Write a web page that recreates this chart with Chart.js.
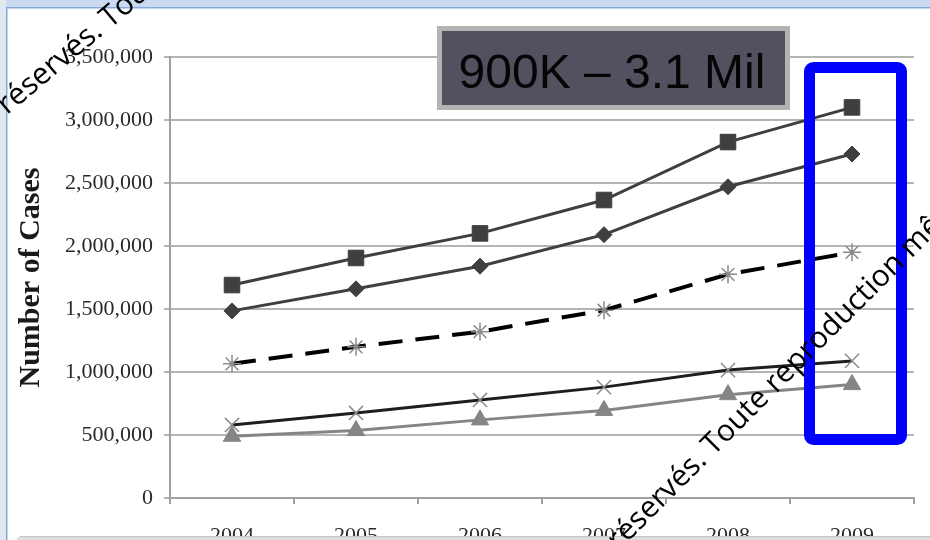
<!DOCTYPE html>
<html>
<head>
<meta charset="utf-8">
<script src="https://cdn.jsdelivr.net/npm/chart.js@4/dist/chart.umd.min.js"></script>
<style>
  html, body { margin: 0; padding: 0; background: #ffffff; overflow: hidden; }
  #wrap { position: relative; width: 930px; height: 540px; }
</style>
</head>
<body>
<div id="wrap"><canvas id="c" width="930" height="540"></canvas></div>
<script>
// Reported cases per year, 2004–2009
const years = ['2004', '2005', '2006', '2007', '2008', '2009'];
const squareSeries   = [1690000, 1905000, 2100000, 2365000, 2825000, 3100000];
const diamondSeries  = [1485000, 1660000, 1840000, 2090000, 2470000, 2730000];
const starSeries     = [1065000, 1200000, 1320000, 1490000, 1775000, 1950000];
const crossSeries    = [580000, 675000, 778000, 880000, 1015000, 1088000];
const triangleSeries = [490000, 535000, 620000, 695000, 820000, 900000];
const yTickValues = [0, 500000, 1000000, 1500000, 2000000, 2500000, 3000000, 3500000];
const rangeLabel = '900K – 3.1 Mil';
const watermarkHead = 'Tous droits réservés.';
const watermarkTail = ' Toute reproduction même partielle';

const serif = '"Liberation Serif", "Times New Roman", serif';

function fmt(v) { return v.toLocaleString('en-US'); }

const decorations = {
  id: 'decorations',
  beforeDraw(chart) {
    const ctx = chart.ctx;
    ctx.save();
    ctx.fillStyle = '#ffffff';
    ctx.fillRect(0, 0, 930, 540);
    // window frame: top strip and left strip
    ctx.fillStyle = '#c9daf1';
    ctx.fillRect(0, 0, 930, 7);
    ctx.fillStyle = '#e1e7f1';
    ctx.fillRect(0, 0, 6, 540);
    ctx.fillStyle = '#86a9dc';
    ctx.fillRect(6, 7, 930, 1.5);
    ctx.fillRect(6, 7, 1.5, 540);
    ctx.restore();
  },
  afterDatasetsDraw(chart) {
    const ctx = chart.ctx;
    const x = chart.scales.x, y = chart.scales.y;
    ctx.save();
    // range label box
    ctx.fillStyle = '#b3b3b3';
    ctx.fillRect(437, 26, 353, 84);
    ctx.fillStyle = '#535160';
    ctx.fillRect(442, 31, 343, 74);
    ctx.fillStyle = '#050505';
    ctx.font = '48px "Liberation Sans", Arial, sans-serif';
    ctx.textAlign = 'center';
    ctx.textBaseline = 'alphabetic';
    ctx.fillText(rangeLabel, 612, 88);
    // highlight frame around the last year
    const cx = x.getPixelForValue(years.length - 1);
    const top = y.getPixelForValue(3500000) + 10.5;
    const bottom = y.getPixelForValue(500000) + 4.5;
    ctx.strokeStyle = '#0000ff';
    ctx.lineWidth = 11;
    ctx.lineJoin = 'round';
    ctx.beginPath();
    ctx.roundRect(cx - 42.5, top, 92, bottom - top, 4);
    ctx.stroke();
    ctx.restore();
  },
  afterDraw(chart) {
    const ctx = chart.ctx;
    ctx.save();
    // bottom panel edge
    ctx.fillStyle = '#dedede';
    ctx.beginPath();
    ctx.roundRect(17, 536, 930, 10, 4);
    ctx.fill();
    ctx.fillStyle = '#c4c4c4';
    ctx.fillRect(20, 536, 930, 1);
    // copyright watermark
    ctx.fillStyle = '#000000';
    ctx.font = '30px "Open Sans", "Noto Sans", sans-serif';
    ctx.textBaseline = 'alphabetic';
    const marks = [[104, 34, 40], [708, 462, 45]];
    for (const [mx, my, deg] of marks) {
      ctx.save();
      ctx.translate(mx, my);
      ctx.rotate(-deg * Math.PI / 180);
      ctx.textAlign = 'right';
      ctx.fillText(watermarkHead, 0, 0);
      ctx.textAlign = 'left';
      ctx.fillText(watermarkTail, 0, 0);
      ctx.restore();
    }
    ctx.restore();
  }
};

const lineBase = { tension: 0, fill: false, borderWidth: 3 };

new Chart(document.getElementById('c'), {
  type: 'line',
  data: {
    labels: years,
    datasets: [
      Object.assign({}, lineBase, {
        label: 'Series A', data: squareSeries,
        borderColor: '#3f3f3f', backgroundColor: '#3f3f3f',
        pointStyle: 'rect', pointRadius: 11, pointBorderWidth: 1
      }),
      Object.assign({}, lineBase, {
        label: 'Series B', data: diamondSeries,
        borderColor: '#3f3f3f', backgroundColor: '#3f3f3f',
        pointStyle: 'rectRot', pointRadius: 8, pointBorderWidth: 1
      }),
      Object.assign({}, lineBase, {
        label: 'Series C', data: starSeries,
        borderColor: '#000000', backgroundColor: '#8a8a8a', borderWidth: 4,
        borderDash: [24, 13],
        pointStyle: 'star', pointRadius: 9, pointBorderColor: '#8a8a8a', pointBorderWidth: 1.5
      }),
      Object.assign({}, lineBase, {
        label: 'Series D', data: crossSeries,
        borderColor: '#1e1e1e', backgroundColor: '#8a8a8a',
        pointStyle: 'crossRot', pointRadius: 10, pointBorderColor: '#8a8a8a', pointBorderWidth: 1.5
      }),
      Object.assign({}, lineBase, {
        label: 'Series E', data: triangleSeries,
        borderColor: '#858585', backgroundColor: '#858585',
        pointStyle: 'triangle', pointRadius: 10, pointBorderWidth: 1
      })
    ]
  },
  options: {
    responsive: false,
    animation: false,
    devicePixelRatio: 1,
    layout: { padding: { left: 8, right: 16, top: 57, bottom: 0 } },
    plugins: { legend: { display: false }, tooltip: { enabled: false } },
    scales: {
      x: {
        type: 'category',
        offset: true,
        afterFit(scale) { scale.height = 42; },
        grid: { drawOnChartArea: false, drawTicks: true, tickLength: 6, color: '#a0a0a0', lineWidth: 2, offset: true },
        border: { display: true, color: '#a0a0a0', width: 2 },
        ticks: { padding: 19, color: '#2a2a2a', font: { family: serif, size: 22 } }
      },
      y: {
        min: 0, max: 3500000,
        afterFit(scale) { scale.width = 162; },
        afterBuildTicks(scale) { scale.ticks = yTickValues.map(v => ({ value: v })); },
        grid: { color: '#b4b4b4', lineWidth: 2, tickLength: 6 },
        border: { display: true, color: '#a0a0a0', width: 2 },
        ticks: { padding: 11, color: '#2a2a2a', font: { family: serif, size: 22 }, callback: v => fmt(v) },
        title: {
          display: true, text: 'Number of Cases', color: '#1a1a1a',
          font: { family: serif, size: 30, weight: 'bold' },
          padding: { top: 5, bottom: 0 }
        }
      }
    }
  },
  plugins: [decorations]
});
</script>
</body>
</html>
